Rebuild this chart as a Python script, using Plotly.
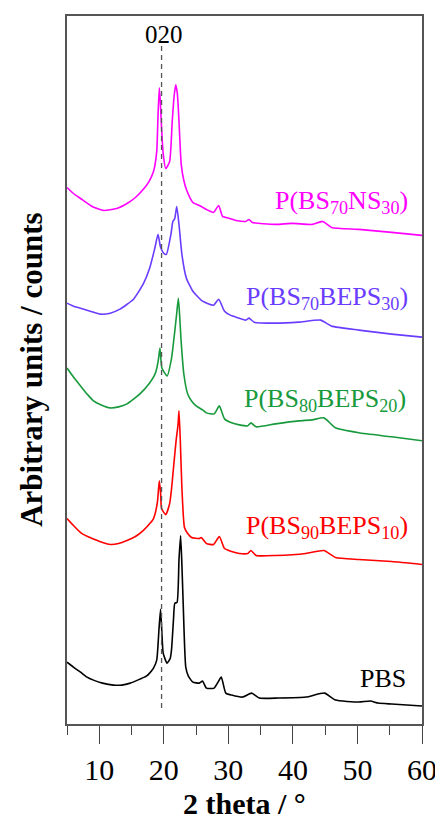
import plotly.graph_objects as go

# 2 theta values and stacked intensities (arbitrary units)
pbs_x = [5, 6, 7.1, 8.1, 9.1, 10.5, 12.2, 13.5, 14.8, 16.3, 17.3, 17.8, 18.4, 18.9, 19.25, 19.5, 19.75, 19.9, 20.5, 21.0, 21.2, 21.5, 21.7,
         22.05, 22.35, 22.6, 22.8, 23.0, 23.4, 23.8, 24.5, 25.5, 26.0, 26.6, 27.8, 28.4, 28.9, 29.6, 30.5, 32.2, 33.6, 34.8, 37.8,
         42.0, 44.9, 46.6, 50.2, 52.0, 53.2, 55.3, 60]
pbs_y = [62, 57, 52, 47, 44, 41, 39, 39, 41, 45, 48, 51, 56, 64, 95, 115, 85, 71, 61, 66, 75, 105, 121,
         122, 165, 189, 160, 121, 57, 48, 42, 41, 43, 36, 36, 42, 47, 31, 29, 27, 31, 26, 26,
         27, 31, 24, 22, 23, 21, 20, 18]

bs90_x = [5, 6, 7.1, 8.2, 9.3, 10.5, 11.7, 13.0, 14.3, 15.6, 16.8, 17.7, 18.4, 19.0, 19.3, 19.5, 19.65, 20.3, 20.9, 21.2, 21.5,
          21.9, 22.2, 22.35, 22.55, 22.8, 23.2, 23.7, 24.3, 25.5, 25.8, 26.6, 27.7, 28.6, 29.4, 30.5, 31.7, 33.0, 33.5, 34.3,
          37.3, 42.0, 44.8, 46.6, 50.2, 55.3, 60]
bs90_y = [206, 199, 192, 188, 185, 182, 180, 181, 184, 188, 194, 200, 206, 222, 244, 232, 216, 210, 221, 236, 257,
          284, 300, 314, 285, 237, 197, 191, 187, 186, 187, 181, 180, 188, 176, 173, 171, 171, 174, 169,
          169, 171, 174, 167, 165, 163, 160]

bs80_x = [5, 6, 7.1, 8.1, 9.1, 10.3, 11.7, 13.0, 14.3, 16.3, 17.8, 18.5, 18.8, 19.15, 19.4, 19.7, 20.5, 21.2, 21.7, 22.0,
          22.25, 22.45, 22.65, 23.1, 23.7, 24.3, 25.0, 26.0, 26.6, 27.8, 28.6, 29.4, 30.5, 31.7, 33.0, 33.5, 34.3, 37.3,
          40.9, 43.0, 44.8, 46.6, 50.2, 55.3, 60]
bs80_y = [357, 348, 339, 331, 324, 320, 317, 318, 321, 331, 342, 349, 354, 365, 377, 357, 349, 367, 394, 412,
          427, 410, 387, 351, 331, 324, 319, 315, 312, 311, 319, 306, 302, 300, 299, 302, 298, 301,
          304, 305, 307, 297, 292, 288, 284]

bs70_x = [5, 6, 7.1, 8.6, 10.2, 11.7, 13.2, 15.3, 16.8, 17.8, 18.6, 19.1, 19.5, 20.0, 20.4, 21.1, 21.4, 21.7, 22.0, 22.35,
          22.8, 23.5, 24.5, 26.0, 27.7, 28.5, 29.4, 30.3, 31.2, 32.7, 33.2, 34.0, 37.3, 40.9, 44.3, 46.0, 50.2, 55.3, 60]
bs70_y = [422, 419, 417, 414, 411, 412, 416, 426, 441, 457, 477, 491, 478, 472, 471, 491, 504, 507, 519, 501,
          471, 447, 434, 424, 420, 426, 414, 410, 408, 405, 407, 403, 402, 403, 405, 399, 395, 391, 388]

ns30_x = [5, 6, 7.1, 8.9, 10.7, 12.7, 14.3, 15.6, 16.8, 17.7, 18.4, 18.9, 19.1, 19.3, 19.45, 19.6, 19.9, 20.3, 20.9, 21.3,
          21.6, 21.85, 22.1, 22.3, 22.7, 23.1, 23.5, 24.5, 25.5, 26.6, 27.7, 28.5, 29.1, 30.2, 31.2, 32.7, 33.2, 33.7,
          37.3, 39.9, 43.0, 44.6, 46.0, 50.2, 55.3, 60]
ns30_y = [538, 532, 527, 519, 515, 517, 522, 528, 536, 544, 554, 574, 610, 638, 625, 604, 572, 557, 564, 604,
          630, 641, 632, 611, 561, 545, 536, 523, 520, 516, 513, 520, 509, 507, 505, 504, 506, 503,
          501, 502, 501, 504, 498, 496, 493, 490]

series_names = ["PBS", "P(BS<sub>90</sub>BEPS<sub>10</sub>)", "P(BS<sub>80</sub>BEPS<sub>20</sub>)",
                "P(BS<sub>70</sub>BEPS<sub>30</sub>)", "P(BS<sub>70</sub>NS<sub>30</sub>)"]
series_colors = ["#000000", "#FF0000", "#189A3C", "#6A3CFF", "#FF00FF"]
label_y = [46, 198, 325, 427, 523]
label_x = [57.8, 58.1, 57.9, 58.1, 58.1]

xs = [pbs_x, bs90_x, bs80_x, bs70_x, ns30_x]
ys = [pbs_y, bs90_y, bs80_y, bs70_y, ns30_y]

peak_x = 19.65
peak_label = "020"

tick_vals = [10, 20, 30, 40, 50, 60]

FONT = "Liberation Serif"

fig = go.Figure()
for x, y, c, n in zip(xs, ys, series_colors, series_names):
    fig.add_trace(go.Scatter(x=x, y=y, mode="lines", line=dict(color=c, width=1.6, shape="spline", smoothing=0.5),
                             name=n, showlegend=False, hoverinfo="skip"))

fig.add_shape(type="line", x0=peak_x, x1=peak_x, y0=16, y1=681, xref="x", yref="y",
              line=dict(color="#555555", width=1.3, dash="5px,4px"))

annotations = []
for n, c, lx, ly in zip(series_names, series_colors, label_x, label_y):
    annotations.append(dict(x=lx, y=ly, xref="x", yref="y", text=n, showarrow=False,
                            xanchor="right", yanchor="middle",
                            font=dict(family=FONT, size=26, color=c)))
annotations.append(dict(x=20.05, y=691, xref="x", yref="y", text=peak_label, showarrow=False,
                        xanchor="center", yanchor="middle", font=dict(family=FONT, size=25, color="#000")))
annotations.append(dict(x=-0.102, y=0.5, xref="paper", yref="paper", text="<b>Arbitrary units / counts</b>",
                        showarrow=False, textangle=-90, xanchor="center", yanchor="middle",
                        font=dict(family=FONT, size=31, color="#000")))
annotations.append(dict(x=0.5, y=-0.112, xref="paper", yref="paper", text="<b>2 theta / °</b>",
                        showarrow=False, xanchor="center", yanchor="middle",
                        font=dict(family=FONT, size=30, color="#000")))

# the page body adds an 8px offset, so the figure is 8px smaller and margins shifted
fig.update_layout(
    width=435, height=811,
    margin=dict(l=58.5, r=19, t=6, b=95),
    paper_bgcolor="white", plot_bgcolor="white",
    annotations=annotations,
    xaxis=dict(range=[5, 60], tickvals=tick_vals, ticks="outside", ticklen=18, tickwidth=1.3,
               tickcolor="#444444", showline=True, linecolor="#555555", linewidth=1.5, mirror=True,
               showgrid=False, zeroline=False,
               tickfont=dict(family=FONT, size=30, color="#000"),
               minor=dict(dtick=5, tick0=5, ticks="outside", ticklen=9, tickwidth=1.3, tickcolor="#444444",
                          showgrid=False)),
    yaxis=dict(range=[0, 710], showticklabels=False, ticks="", showline=True, linecolor="#555555",
               linewidth=1.5, mirror=True, showgrid=False, zeroline=False),
)

fig.write_html("out.html")
